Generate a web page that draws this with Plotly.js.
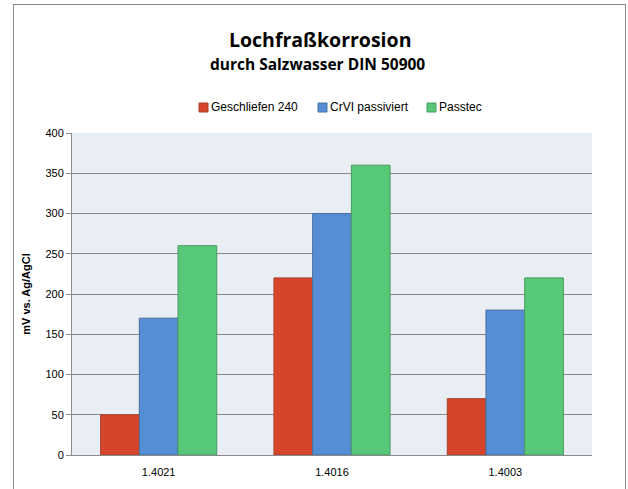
<!DOCTYPE html>
<html><head><meta charset="utf-8">
<script src="https://cdn.plot.ly/plotly-3.0.1.min.js"></script>
<style>
html,body{margin:0;padding:0;background:#fff;}
#c{width:628px;height:489px;position:relative;}
#frame{position:absolute;left:13px;top:4px;width:611px;height:492px;border:1px solid #8a8a8a;pointer-events:none;}
</style></head>
<body>
<div id="c"></div>
<div id="frame"></div>
<script>
const categories = ["1.4021", "1.4016", "1.4003"];
const seriesNames = ["Geschliefen 240", "CrVI passiviert", "Passtec"];
const geschliefen = [50, 220, 70];
const crvi = [170, 300, 180];
const passtec = [260, 360, 220];
const colors = ["#D6442A", "#558ED5", "#57C878"];
const lineColors = ["#a8402f", "#4a6f9c", "#4a9a62"];
const values = [geschliefen, crvi, passtec];

const traces = values.map((v, i) => ({
  type: "bar", x: categories, y: v, name: seriesNames[i],
  marker: {color: colors[i], line: {color: lineColors[i], width: 1}}
}));

// plot area geometry (pixels)
const L = 72, R = 36, T = 133, B = 34, W = 628, H = 489;
const pw = W - L - R, ph = H - T - B;
const px = x => (x - L) / pw;
const py = y => (H - B - y) / ph;

// manual legend (Excel-like compact layout)
const legendLeft = [199, 318, 427];
const legendY = 107.5;
const shapes = [];
const annotations = [
  {text: "<b>Lochfraßkorrosion</b>", xref: "paper", yref: "paper", x: px(320), y: py(40),
   showarrow: false, font: {size: 19.5, family: "Open Sans, sans-serif"}, xanchor: "center", yanchor: "middle"},
  {text: "<b>durch Salzwasser DIN 50900</b>", xref: "paper", yref: "paper", x: px(317), y: py(64),
   showarrow: false, font: {size: 15.5, family: "Open Sans, sans-serif"}, xanchor: "center", yanchor: "middle"}
];
seriesNames.forEach((n, i) => {
  shapes.push({type: "rect", xref: "paper", yref: "paper", xsizemode: "pixel", ysizemode: "pixel",
    xanchor: px(legendLeft[i]), yanchor: py(legendY), x0: 0, x1: 9, y0: -4.5, y1: 4.5,
    fillcolor: colors[i], line: {color: lineColors[i], width: 1}});
  annotations.push({text: n, xref: "paper", yref: "paper", x: px(legendLeft[i] + 10), y: py(legendY),
    xanchor: "left", yanchor: "middle", showarrow: false,
    font: {size: 12, family: "Liberation Sans, Arial, sans-serif", color: "#000"}});
});

const layout = {
  width: W, height: H,
  margin: {l: L, r: R, t: T, b: B},
  paper_bgcolor: "#ffffff", plot_bgcolor: "#E9EDF4",
  barmode: "group", bargap: 0.33, bargroupgap: 0,
  font: {family: "Liberation Sans, Arial, sans-serif", color: "#000"},
  showlegend: false,
  xaxis: {type: "category", showline: true, linecolor: "#8a8a8a", ticks: "", tickfont: {size: 11},
    showgrid: false, fixedrange: true, ticklabelstandoff: 7},
  yaxis: {range: [0, 400], dtick: 50, showgrid: true, gridcolor: "#8a8a8a", gridwidth: 1,
    showline: true, linecolor: "#8a8a8a", ticks: "outside", ticklen: 5, tickcolor: "#8a8a8a",
    tickfont: {size: 11}, zeroline: false,
    title: {text: "<b>mV vs. Ag/AgCl</b>", font: {size: 11}, standoff: 12}},
  shapes: shapes,
  annotations: annotations
};

Plotly.newPlot("c", traces, layout, {staticPlot: true});
</script>
</body></html>
